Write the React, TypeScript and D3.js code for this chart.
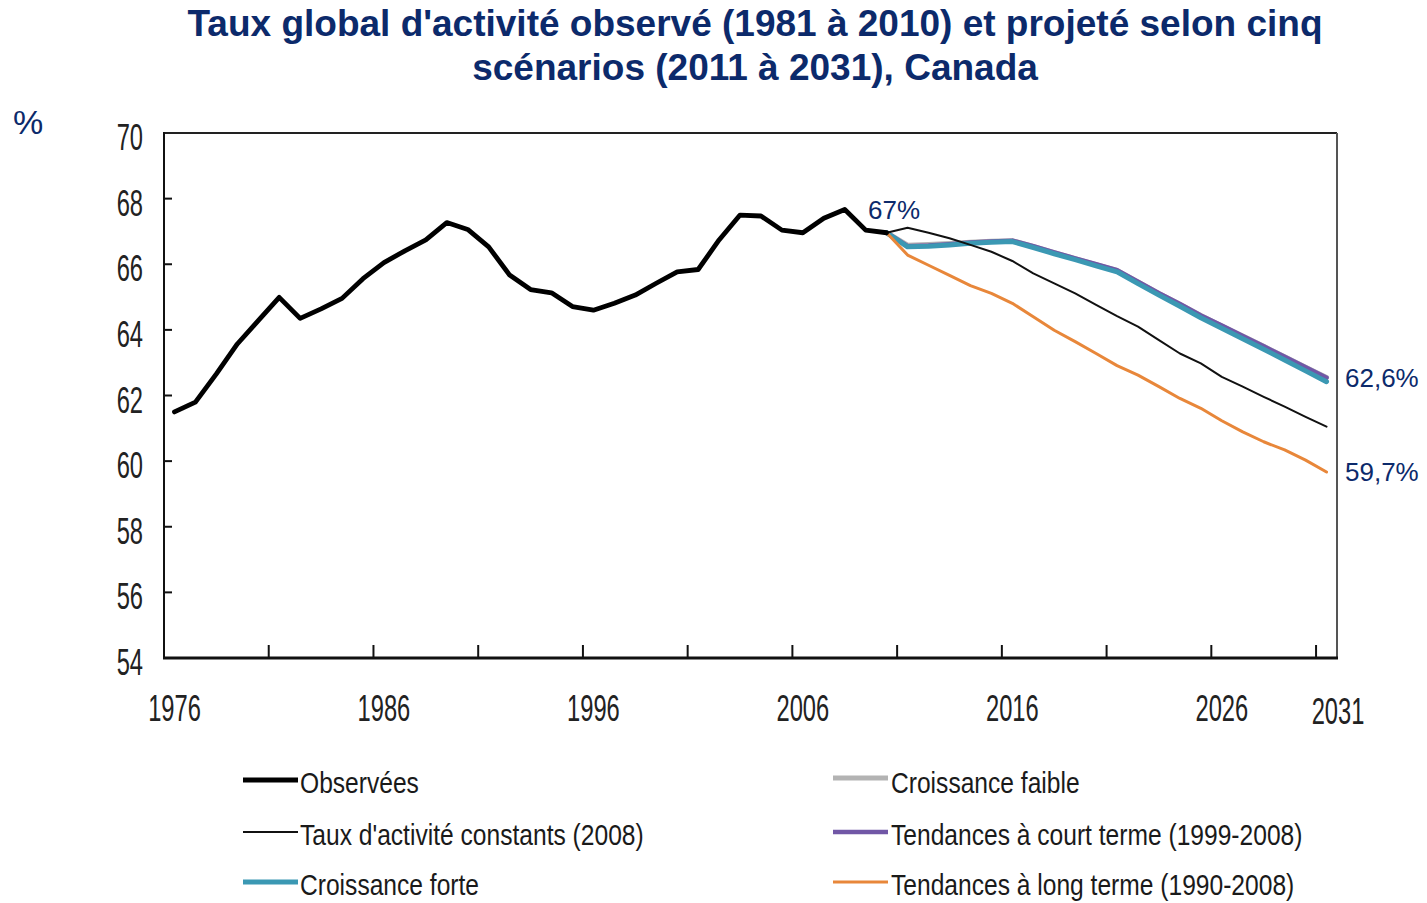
import React from "react";
import * as d3 from "d3";

// ---- Data ----
const observedYears: number[] = d3.range(1976, 2011);
const observed: number[] = [
  61.5, 61.8, 62.66, 63.57, 64.28, 64.99, 64.35, 64.64, 64.96, 65.56,
  66.05, 66.41, 66.74, 67.27, 67.06, 66.53, 65.67, 65.23, 65.13, 64.71,
  64.6, 64.81, 65.06, 65.42, 65.77, 65.84, 66.74, 67.5, 67.47, 67.04,
  66.96, 67.4, 67.67, 67.04, 66.96,
];

const projYears: number[] = d3.range(2010, 2032);
const constants2008: number[] = [
  66.96, 67.11, 66.96, 66.79, 66.59, 66.38, 66.1, 65.72, 65.42, 65.11,
  64.76, 64.42, 64.1, 63.69, 63.28, 62.98, 62.57, 62.27, 61.96, 61.66,
  61.35, 61.05,
];
const croissanceForte: number[] = [
  66.96, 66.53, 66.55, 66.59, 66.64, 66.67, 66.69, 66.51, 66.32, 66.14,
  65.95, 65.77, 65.41, 65.06, 64.72, 64.37, 64.05, 63.73, 63.41, 63.08,
  62.75, 62.42,
];
const croissanceFaible: number[] = [
  66.96, 66.58, 66.6, 66.63, 66.67, 66.7, 66.72, 66.54, 66.35, 66.17,
  65.99, 65.81, 65.46, 65.11, 64.78, 64.44, 64.12, 63.81, 63.5, 63.18,
  62.86, 62.55,
];
const courtTerme: number[] = [
  66.96, 66.55, 66.57, 66.61, 66.66, 66.69, 66.72, 66.55, 66.36, 66.18,
  66.0, 65.82, 65.47, 65.12, 64.79, 64.44, 64.13, 63.81, 63.5, 63.18,
  62.86, 62.54,
];
const longTerme: number[] = [
  66.96, 66.28, 65.97, 65.66, 65.35, 65.11, 64.81, 64.4, 63.99, 63.64,
  63.28, 62.91, 62.62, 62.27, 61.91, 61.61, 61.23, 60.89, 60.59, 60.34,
  60.03, 59.67,
];

const yTicks: number[] = [54, 56, 58, 60, 62, 64, 66, 68, 70];
const xLabelYears: number[] = [1976, 1986, 1996, 2006, 2016, 2026];
const xTickBoundaries: number[] = d3.range(1980.5, 2031, 5);
const lastYear = 2031;

const titleLines: string[] = [
  "Taux global d'activité observé (1981 à 2010) et projeté selon cinq",
  "scénarios (2011 à 2031), Canada",
];
const annotations = [
  { text: "67%", year: 2010, value: 66.96 },
  { text: "62,6%", year: 2031, value: 62.6 },
  { text: "59,7%", year: 2031, value: 59.67 },
];

const legendLeft = [
  { label: "Observées", key: "obs" },
  { label: "Taux d'activité constants (2008)", key: "const" },
  { label: "Croissance forte", key: "forte" },
];
const legendRight = [
  { label: "Croissance faible", key: "faible" },
  { label: "Tendances à court terme (1999-2008)", key: "court" },
  { label: "Tendances à long terme (1990-2008)", key: "long" },
];

// ---- Styles ----
const NAVY = "#0c2a6b";
const styles: Record<string, { color: string; width: number }> = {
  obs: { color: "#000000", width: 4.8 },
  const: { color: "#111111", width: 2 },
  forte: { color: "#3b98b3", width: 5 },
  faible: { color: "#b3b3b3", width: 5 },
  court: { color: "#7157a6", width: 4.5 },
  long: { color: "#e8873a", width: 3 },
};

const W = 1427;
const H = 903;
const plot = { left: 164, right: 1337, top: 133, bottom: 658 };

export default function App() {
  const x = d3
    .scaleLinear()
    .domain([1975.5, lastYear + 0.5])
    .range([plot.left, plot.right]);
  const y = d3.scaleLinear().domain([54, 70]).range([plot.bottom, plot.top]);

  const line = d3
    .line<[number, number]>()
    .x((d) => x(d[0]))
    .y((d) => y(d[1]));

  const pts = (years: number[], vals: number[]) =>
    years.map((yr, i) => [yr, vals[i]] as [number, number]);

  const series = [
    { key: "faible", years: projYears, vals: croissanceFaible },
    { key: "court", years: projYears, vals: courtTerme },
    { key: "forte", years: projYears, vals: croissanceForte },
    { key: "const", years: projYears, vals: constants2008 },
    { key: "long", years: projYears, vals: longTerme },
    { key: "obs", years: observedYears, vals: observed },
  ];

  const axisFont = "'Liberation Sans', Arial, sans-serif";

  return (
    <svg
      width={W}
      height={H}
      style={{ position: "absolute", left: 0, top: 0, background: "#fff" }}
    >
      <rect x={0} y={0} width={W} height={H} fill="#fff" />
      {/* Title */}
      {titleLines.map((t, i) => (
        <text
          key={i}
          x={755}
          y={36 + i * 44}
          textAnchor="middle"
          fontFamily={axisFont}
          fontWeight="bold"
          fontSize={37}
          fill={NAVY}
        >
          {t}
        </text>
      ))}
      <text x={13} y={134} fontFamily={axisFont} fontSize={34} fill={NAVY}>
        %
      </text>

      {/* Frame */}
      <line x1={plot.left} x2={plot.right} y1={plot.top} y2={plot.top} stroke="#222" strokeWidth={2} />
      <line x1={plot.right} x2={plot.right} y1={plot.top} y2={plot.bottom} stroke="#555" strokeWidth={2} />
      <line x1={plot.left} x2={plot.left} y1={plot.top - 1} y2={plot.bottom + 1} stroke="#111" strokeWidth={2} />
      <line x1={plot.left - 1} x2={plot.right + 1} y1={plot.bottom} y2={plot.bottom} stroke="#111" strokeWidth={3} />

      {/* Y ticks and labels */}
      {yTicks.map((v) => (
        <g key={v}>
          {v > 54 && v < 70 && (
            <line x1={plot.left} x2={plot.left + 8} y1={y(v)} y2={y(v)} stroke="#111" strokeWidth={2} />
          )}
          <text
            transform={`translate(143,${y(v) + 17}) scale(0.64,1)`}
            textAnchor="end"
            fontFamily={axisFont}
            fontSize={37}
            fill="#222"
          >
            {v}
          </text>
        </g>
      ))}

      {/* X ticks and labels */}
      {xTickBoundaries.map((b) => (
        <line key={b} x1={x(b)} x2={x(b)} y1={plot.bottom} y2={plot.bottom - 13} stroke="#111" strokeWidth={2} />
      ))}
      {xLabelYears.map((yr) => (
        <text
          key={yr}
          transform={`translate(${x(yr)},721) scale(0.64,1)`}
          textAnchor="middle"
          fontFamily={axisFont}
          fontSize={37}
          fill="#222"
        >
          {yr}
        </text>
      ))}
      <text
        transform={`translate(${x(lastYear + 0.5) + 1},724) scale(0.64,1)`}
        textAnchor="middle"
        fontFamily={axisFont}
        fontSize={37}
        fill="#222"
      >
        {lastYear}
      </text>

      {/* Series */}
      {series.map((s) => (
        <path
          key={s.key}
          d={line(pts(s.years, s.vals)) || ""}
          fill="none"
          stroke={styles[s.key].color}
          strokeWidth={styles[s.key].width}
          strokeLinejoin="round"
          strokeLinecap="round"
        />
      ))}

      {/* Annotations */}
      <text x={868} y={219} fontFamily={axisFont} fontSize={26} fill={NAVY}>
        {annotations[0].text}
      </text>
      <text x={1345} y={y(annotations[1].value) + 11} fontFamily={axisFont} fontSize={26} fill={NAVY}>
        {annotations[1].text}
      </text>
      <text x={1345} y={y(annotations[2].value) + 9} fontFamily={axisFont} fontSize={26} fill={NAVY}>
        {annotations[2].text}
      </text>

      {/* Legend */}
      {legendLeft.map((it, i) => {
        const cy = [780, 832, 882][i];
        return (
          <g key={it.key}>
            <line x1={243} x2={298} y1={cy} y2={cy} stroke={styles[it.key].color} strokeWidth={styles[it.key].width} />
            <text
              transform={`translate(300,${[793, 845, 895][i]}) scale(0.82,1)`}
              fontFamily={axisFont}
              fontSize={30}
              fill="#1a1a1a"
            >
              {it.label}
            </text>
          </g>
        );
      })}
      {legendRight.map((it, i) => {
        const cy = [778, 832, 882][i];
        return (
          <g key={it.key}>
            <line x1={833} x2={888} y1={cy} y2={cy} stroke={styles[it.key].color} strokeWidth={styles[it.key].width} />
            <text
              transform={`translate(891,${[793, 845, 895][i]}) scale(0.82,1)`}
              fontFamily={axisFont}
              fontSize={30}
              fill="#1a1a1a"
            >
              {it.label}
            </text>
          </g>
        );
      })}
    </svg>
  );
}
